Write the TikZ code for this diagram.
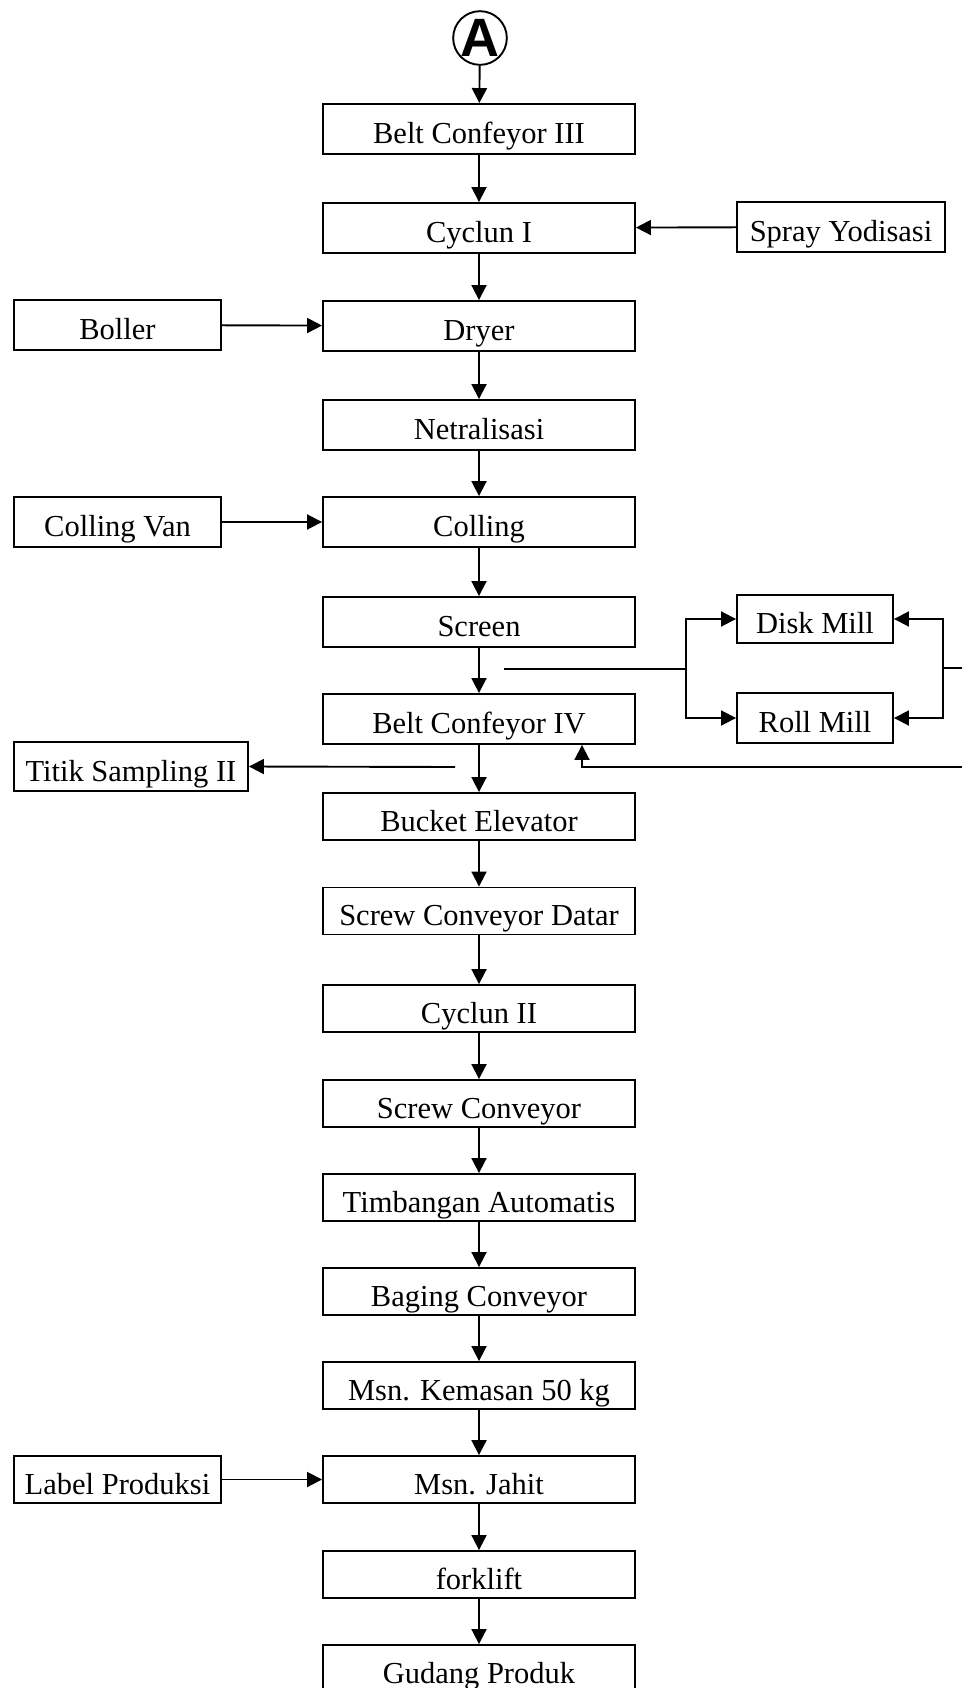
\documentclass[tikz,border=0pt]{standalone}
\usepackage{fontspec}
\setmainfont{Liberation Serif}
\newfontfamily\circfont{Liberation Sans}
\usetikzlibrary{arrows.meta}
\begin{document}
\begin{tikzpicture}[x=1pt,y=-1pt,line width=1.9pt,
  box/.style={draw,rectangle,inner sep=0pt,minimum width=312pt,minimum height=48pt,
    text height=35pt,text depth=6pt,font=\fontsize{30.5}{36}\selectfont},
  sidebox/.style={box,minimum width=207pt},
  millbox/.style={box,minimum width=156pt},
  flow/.style={-{Triangle[length=15pt,width=15pt]}},
  plain/.style={-}]
\useasboundingbox (0,0) rectangle (962,1688);
% connector circle
\node[draw,circle,minimum size=49pt,inner sep=0pt,font=\circfont\bfseries\fontsize{54}{54}\selectfont] (A) at (480,38) {A};
% main column
\node[box,minimum height=50pt] (b1) at (479,129) {Belt Confeyor III};
\node[box,minimum height=50pt] (b2) at (479,228) {Cyclun I};
\node[box,minimum height=50pt] (b3) at (479,326) {Dryer};
\node[box,minimum height=50pt] (b4) at (479,425) {Netralisasi};
\node[box,minimum height=50pt] (b5) at (479,522) {Colling};
\node[box,minimum height=50pt] (b6) at (479,622) {Screen};
\node[box,minimum height=50pt] (b7) at (479,719) {Belt Confeyor IV};
\node[box,minimum height=47pt] (b8) at (479,816.5) {Bucket Elevator};
\node[box,minimum height=47pt] (b9) at (479,911) {Screw Conveyor Datar};
\node[box,minimum height=47pt] (b10) at (479,1008.5) {Cyclun II};
\node[box,minimum height=47pt] (b11) at (479,1103.5) {Screw Conveyor};
\node[box,minimum height=47pt] (b12) at (479,1197.5) {Timbangan Automatis};
\node[box,minimum height=47pt] (b13) at (479,1291.5) {Baging Conveyor};
\node[box,minimum height=47pt] (b14) at (479,1385.5) {Msn. Kemasan 50 kg};
\node[box,minimum height=47pt] (b15) at (479,1479.5) {Msn. Jahit};
\node[box,minimum height=47pt] (b16) at (479,1574.5) {forklift};
\node[box,minimum height=47pt] (b17) at (479,1668.5) {Gudang Produk};
% side boxes
\node[sidebox,minimum width=208pt,minimum height=50pt] (spray) at (841,227) {Spray Yodisasi};
\node[sidebox,minimum height=50pt] (boller) at (117.5,325) {Boller};
\node[sidebox,minimum height=50pt] (cvan) at (117.5,522) {Colling Van};
\node[millbox] (disk) at (815,619) {Disk Mill};
\node[millbox,minimum height=50pt] (roll) at (815,718) {Roll Mill};
\node[sidebox,minimum width=234pt,minimum height=49pt] (titik) at (131,766.5) {Titik Sampling II};
\node[sidebox,minimum height=47pt] (label) at (117.5,1479.5) {Label Produksi};
% main flow
\draw[flow] (A) -- (b1);
\foreach \i/\j in {1/2,2/3,3/4,4/5,5/6,6/7,7/8,8/9,9/10,10/11,11/12,12/13,13/14,14/15,15/16,16/17}
  \draw[flow] (b\i) -- (b\j);
% side inputs
\draw[flow] (spray) -- (b2);
\draw[flow] (boller) -- (b3);
\draw[flow] (cvan) -- (b5);
\draw[flow] (label) -- (b15);
% screen branch to mills
\coordinate (s0) at (504,669);
\coordinate (sj) at (686,669);
\draw[plain] (s0) -- (sj);
\draw[flow] (sj) |- (disk.west);
\draw[flow] (sj) |- (roll.west);
% return from right
\coordinate (rj) at (943,668);
\coordinate (re) at (962,668);
\draw[plain] (re) -- (rj);
\draw[flow] (rj) |- (disk.east);
\draw[flow] (rj) |- (roll.east);
\coordinate (be) at (962,767);
\coordinate (bc) at (582,767);
\draw[flow] (be) -- (bc) -- (bc |- b7.south);
% sampling
\coordinate (t0) at (455,767);
\draw[flow] (t0) -- (titik.east);
\end{tikzpicture}
\end{document}
